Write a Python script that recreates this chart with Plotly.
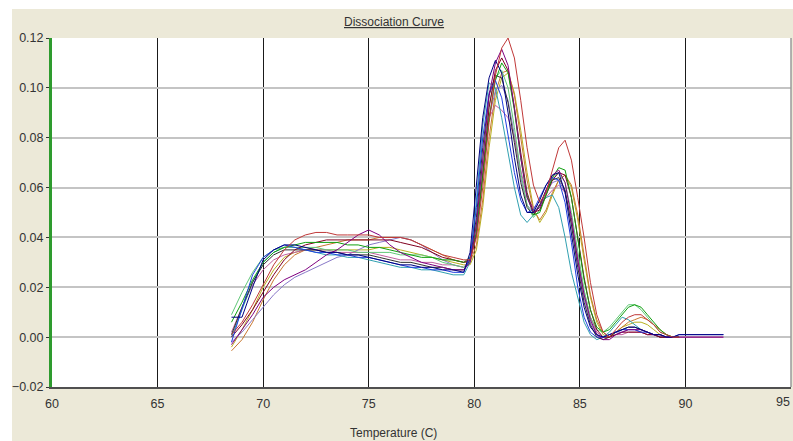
import plotly.graph_objects as go

# Temperature grid (°C): 0.5 steps across the low plateau, 0.3 steps through the melt peaks
temperature = [
    68.5, 69.0, 69.5, 70.0, 70.5, 71.0, 71.5, 72.0, 72.5, 73.0, 73.5, 74.0,
    74.5, 75.0, 75.5, 76.0, 76.5, 77.0, 77.5, 78.0, 78.5, 79.0, 79.5,
    79.8, 80.1, 80.4, 80.7, 81.0, 81.3, 81.6, 81.9, 82.2, 82.5, 82.8, 83.1,
    83.4, 83.7, 84.0, 84.3, 84.6, 84.9, 85.2, 85.5, 85.8, 86.1, 86.4, 86.7,
    87.0, 87.3, 87.6, 87.9, 88.2, 88.5, 88.8, 89.1, 89.4, 89.7, 90.0,
    90.5, 91.0, 91.5, 91.8,
]

# Derivative reporter (-Rn') for each well
well_red = [
    0.001, 0.006, 0.013, 0.021, 0.029, 0.035, 0.039, 0.041, 0.042, 0.042, 0.041, 0.041,
    0.041, 0.041, 0.040, 0.040, 0.040, 0.039, 0.037, 0.035, 0.033, 0.032, 0.031,
    0.031, 0.040, 0.060, 0.086, 0.105, 0.116, 0.120, 0.112, 0.095, 0.076, 0.061, 0.054,
    0.058, 0.067, 0.076, 0.079, 0.071, 0.056, 0.040, 0.022, 0.009, 0.002, 0.000, 0.003,
    0.006, 0.008, 0.009, 0.009, 0.007, 0.005, 0.002, 0.001, 0.000, 0.000,
]
well_purple = [
    -0.003, 0.003, 0.009, 0.016, 0.020, 0.023, 0.025, 0.027, 0.030, 0.033, 0.035, 0.038,
    0.041, 0.043, 0.041, 0.037, 0.034, 0.032, 0.030, 0.029, 0.028, 0.027, 0.027,
    0.030, 0.045, 0.072, 0.097, 0.110, 0.1155, 0.109, 0.092, 0.072, 0.056, 0.050, 0.052,
    0.059, 0.065, 0.067, 0.062, 0.048, 0.031, 0.017, 0.007, 0.001, -0.001, -0.001, 0.001,
    0.002, 0.003, 0.003, 0.003, 0.002, 0.001, 0.001, 0.000, 0.000, 0.000, 0.000,
    0.000, 0.000, 0.000, 0.000,
]
well_navy = [
    0.008, 0.008, 0.020, 0.031, 0.035, 0.037, 0.037, 0.036, 0.035, 0.034, 0.034, 0.033,
    0.033, 0.032, 0.031, 0.030, 0.029, 0.029, 0.028, 0.028, 0.027, 0.027, 0.026,
    0.034, 0.060, 0.088, 0.104, 0.111, 0.106, 0.090, 0.072, 0.057, 0.050, 0.050, 0.055,
    0.061, 0.065, 0.066, 0.058, 0.042, 0.025, 0.012, 0.004, 0.001, 0.000, 0.001, 0.002,
    0.003, 0.004, 0.004, 0.003, 0.002, 0.001, 0.001, 0.000, 0.000, 0.001, 0.001,
    0.001, 0.001, 0.001, 0.001,
]
well_green = [
    0.006, 0.014, 0.023, 0.030, 0.034, 0.036, 0.037, 0.038, 0.038, 0.038, 0.038, 0.037,
    0.037, 0.036, 0.036, 0.035, 0.034, 0.033, 0.032, 0.032, 0.031, 0.031, 0.030,
    0.032, 0.042, 0.064, 0.088, 0.103, 0.110, 0.106, 0.091, 0.072, 0.057, 0.049, 0.050,
    0.057, 0.064, 0.068, 0.067, 0.056, 0.039, 0.023, 0.011, 0.004, 0.002, 0.003, 0.006,
    0.009, 0.012, 0.013, 0.012, 0.009, 0.006, 0.003, 0.001, 0.000, 0.000,
]
well_teal = [
    0.000, 0.011, 0.022, 0.030, 0.034, 0.036, 0.036, 0.035, 0.034, 0.033, 0.033, 0.032,
    0.032, 0.031, 0.030, 0.029, 0.028, 0.028, 0.027, 0.027, 0.026, 0.025, 0.025,
    0.030, 0.055, 0.085, 0.102, 0.100, 0.088, 0.074, 0.060, 0.049, 0.046, 0.049, 0.053,
    0.056, 0.057, 0.052, 0.040, 0.026, 0.016, 0.006, 0.001, -0.001, 0.000, 0.002, 0.005,
    0.008, 0.007, 0.005, 0.003, 0.002, 0.001, 0.001, 0.000, 0.000, 0.000,
]
well_blue = [
    -0.002, 0.012, 0.025, 0.032, 0.035, 0.037, 0.036, 0.035, 0.034, 0.034, 0.033, 0.033,
    0.032, 0.032, 0.031, 0.030, 0.029, 0.028, 0.028, 0.027, 0.027, 0.026, 0.026,
    0.032, 0.052, 0.080, 0.098, 0.103, 0.096, 0.081, 0.066, 0.055, 0.050, 0.051, 0.056,
    0.061, 0.064, 0.063, 0.054, 0.038, 0.020, 0.008, 0.002, 0.000, 0.000, 0.001, 0.002,
    0.003, 0.003, 0.003, 0.002, 0.002, 0.001, 0.001, 0.000, 0.000, 0.001, 0.001,
    0.001, 0.001, 0.001, 0.001,
]
well_olive = [
    -0.004, 0.003, 0.011, 0.020, 0.027, 0.032, 0.034, 0.035, 0.035, 0.035, 0.035, 0.035,
    0.035, 0.035, 0.036, 0.036, 0.035, 0.034, 0.033, 0.032, 0.031, 0.030, 0.029,
    0.029, 0.035, 0.052, 0.076, 0.095, 0.104, 0.106, 0.098, 0.083, 0.066, 0.052, 0.046,
    0.050, 0.057, 0.063, 0.065, 0.060, 0.047, 0.031, 0.016, 0.006, 0.001, 0.000, 0.002,
    0.004, 0.005, 0.006, 0.006, 0.005, 0.003, 0.001, 0.000, 0.000, 0.000,
]
well_orange = [
    -0.0055, -0.001, 0.006, 0.015, 0.023, 0.029, 0.033, 0.035, 0.036, 0.037, 0.038, 0.039,
    0.039, 0.039, 0.040, 0.040, 0.040, 0.039, 0.037, 0.035, 0.033, 0.031, 0.030,
    0.030, 0.037, 0.055, 0.080, 0.098, 0.106, 0.107, 0.097, 0.080, 0.063, 0.051, 0.047,
    0.051, 0.058, 0.063, 0.065, 0.061, 0.049, 0.033, 0.017, 0.007, 0.002, 0.000, 0.002,
    0.004, 0.006, 0.007, 0.008, 0.007, 0.005, 0.003, 0.001, 0.000, 0.000,
]
well_magenta = [
    0.002, 0.012, 0.021, 0.027, 0.031, 0.033, 0.034, 0.035, 0.035, 0.035, 0.034, 0.034,
    0.034, 0.034, 0.033, 0.032, 0.031, 0.031, 0.030, 0.030, 0.029, 0.029, 0.028,
    0.031, 0.045, 0.068, 0.088, 0.093, 0.091, 0.088, 0.080, 0.067, 0.056, 0.052, 0.053,
    0.056, 0.059, 0.061, 0.058, 0.047, 0.032, 0.018, 0.008, 0.002, 0.000, 0.000, 0.001,
    0.001, 0.002, 0.002, 0.002, 0.001, 0.001, 0.000, 0.000, 0.000, 0.000, 0.000,
    0.000, 0.000, 0.000, 0.000,
]
well_black = [
    0.001, 0.012, 0.022, 0.029, 0.033, 0.035, 0.035, 0.035, 0.035, 0.034, 0.034, 0.033,
    0.033, 0.033, 0.032, 0.031, 0.030, 0.030, 0.029, 0.028, 0.028, 0.027, 0.027,
    0.031, 0.048, 0.076, 0.097, 0.105, 0.104, 0.094, 0.078, 0.062, 0.052, 0.049, 0.053,
    0.059, 0.063, 0.064, 0.059, 0.045, 0.028, 0.014, 0.005, 0.000, -0.001, 0.000, 0.002,
    0.003, 0.004, 0.004, 0.003, 0.002, 0.001, 0.000, 0.000, 0.000, 0.000,
]
well_lightgreen = [
    0.009, 0.018, 0.026, 0.032, 0.035, 0.036, 0.036, 0.036, 0.036, 0.035, 0.035, 0.035,
    0.034, 0.034, 0.034, 0.034, 0.033, 0.033, 0.033, 0.032, 0.030, 0.029, 0.028,
    0.030, 0.045, 0.071, 0.093, 0.104, 0.107, 0.100, 0.084, 0.066, 0.053, 0.048, 0.051,
    0.058, 0.064, 0.066, 0.062, 0.050, 0.034, 0.019, 0.008, 0.003, 0.002, 0.004, 0.007,
    0.010, 0.013, 0.013, 0.011, 0.008, 0.005, 0.002, 0.001, 0.000, 0.000,
]
well_maroon = [
    0.000, 0.005, 0.011, 0.018, 0.025, 0.031, 0.035, 0.037, 0.038, 0.039, 0.039, 0.039,
    0.039, 0.039, 0.039, 0.039, 0.038, 0.037, 0.036, 0.034, 0.032, 0.031, 0.030,
    0.031, 0.041, 0.065, 0.092, 0.107, 0.112, 0.107, 0.092, 0.074, 0.058, 0.050, 0.051,
    0.057, 0.063, 0.066, 0.065, 0.056, 0.040, 0.024, 0.011, 0.003, 0.000, 0.000, 0.001,
    0.002, 0.002, 0.002, 0.002, 0.001, 0.001, 0.000, 0.000, 0.000, 0.000,
]
well_lavender = [
    -0.002, 0.002, 0.007, 0.012, 0.017, 0.021, 0.024, 0.026, 0.028, 0.030, 0.032, 0.033,
    0.035, 0.037, 0.038, 0.039, 0.040, 0.039, 0.037, 0.034, 0.031, 0.029, 0.028,
    0.030, 0.042, 0.066, 0.088, 0.099, 0.101, 0.095, 0.081, 0.064, 0.053, 0.050, 0.053,
    0.058, 0.062, 0.063, 0.058, 0.046, 0.030, 0.016, 0.006, 0.001, 0.000, 0.001, 0.002,
    0.002, 0.003, 0.003, 0.002, 0.001, 0.001, 0.000, 0.000, 0.000, 0.000,
]

wells = [
    (well_olive, "#B8B020"),
    (well_orange, "#C87830"),
    (well_lavender, "#8878C8"),
    (well_magenta, "#C060A0"),
    (well_teal, "#30A0B0"),
    (well_lightgreen, "#60C878"),
    (well_black, "#303030"),
    (well_maroon, "#800020"),
    (well_green, "#10A010"),
    (well_blue, "#2040E0"),
    (well_purple, "#800080"),
    (well_navy, "#000080"),
    (well_red, "#C03838"),
]

x_ticks = [60, 65, 70, 75, 80, 85, 90]
x_last_tick = 95
y_ticks = [-0.02, 0.00, 0.02, 0.04, 0.06, 0.08, 0.10, 0.12]

fig = go.Figure()
for values, color in wells:
    fig.add_trace(go.Scatter(
        x=temperature[:len(values)], y=values, mode="lines",
        line=dict(color=color, width=1.0), showlegend=False,
    ))

W, H = 793, 441
L, R, T, B = 52, 2, 38, 54
pw, ph = W - L - R, H - T - B


def px_x(p):
    return (p - L) / pw


def px_y(p):
    return (H - B - p) / ph


fig.update_layout(
    width=W, height=H,
    margin=dict(l=L, r=R, t=T, b=B),
    paper_bgcolor="#ECE9D8",
    plot_bgcolor="#FFFFFF",
    font=dict(family="Liberation Sans, Arial, sans-serif", size=12.5, color="#333333"),
    xaxis=dict(
        range=[60, 95], tickvals=x_ticks + [x_last_tick],
        ticktext=[str(v) for v in x_ticks] + [""],
        showgrid=True, gridcolor="#1A1A1A", gridwidth=1,
        showline=True, linecolor="#505050", linewidth=2, mirror=False,
        zeroline=False, ticks="", ticklabelstandoff=4,
    ),
    yaxis=dict(
        range=[-0.02, 0.12], tickvals=y_ticks, tickformat=".2f",
        showgrid=True, gridcolor="#C4C4C4", gridwidth=1.5,
        showline=True, linecolor="#2E9B2E", linewidth=3,
        zeroline=False, ticks="outside", ticklen=3, tickcolor="#333333",
    ),
    shapes=[
        # light border strips along the top and left edges of the canvas
        dict(type="rect", xref="paper", yref="paper", layer="below",
             x0=px_x(0), x1=px_x(W), y0=px_y(9), y1=px_y(0),
             fillcolor="#FFFFFF", line=dict(width=0)),
        dict(type="rect", xref="paper", yref="paper", layer="below",
             x0=px_x(0), x1=px_x(12), y0=px_y(H), y1=px_y(0),
             fillcolor="#FFFFFF", line=dict(width=0)),
        # right border of the plot area
        dict(type="line", xref="paper", yref="paper",
             x0=1, x1=1, y0=0, y1=1, line=dict(color="#9A9A9A", width=1.5)),
    ],
    annotations=[
        dict(text="Dissociation Curve", xref="paper", yref="paper",
             x=px_x(394), y=px_y(22), showarrow=False, xanchor="center", yanchor="middle",
             font=dict(size=12, color="#333333", lineposition="under")),
        dict(text="Temperature (C)", xref="paper", yref="paper",
             x=px_x(393), y=px_y(433), showarrow=False, xanchor="center", yanchor="middle",
             font=dict(size=12, color="#333333")),
        # last tick label, pulled in so it stays inside the canvas edge
        dict(text=str(x_last_tick), xref="paper", yref="paper",
             x=px_x(792), y=px_y(402), showarrow=False, xanchor="right", yanchor="middle",
             font=dict(size=12.5, color="#333333")),
    ],
)

fig.write_html("out.html")
